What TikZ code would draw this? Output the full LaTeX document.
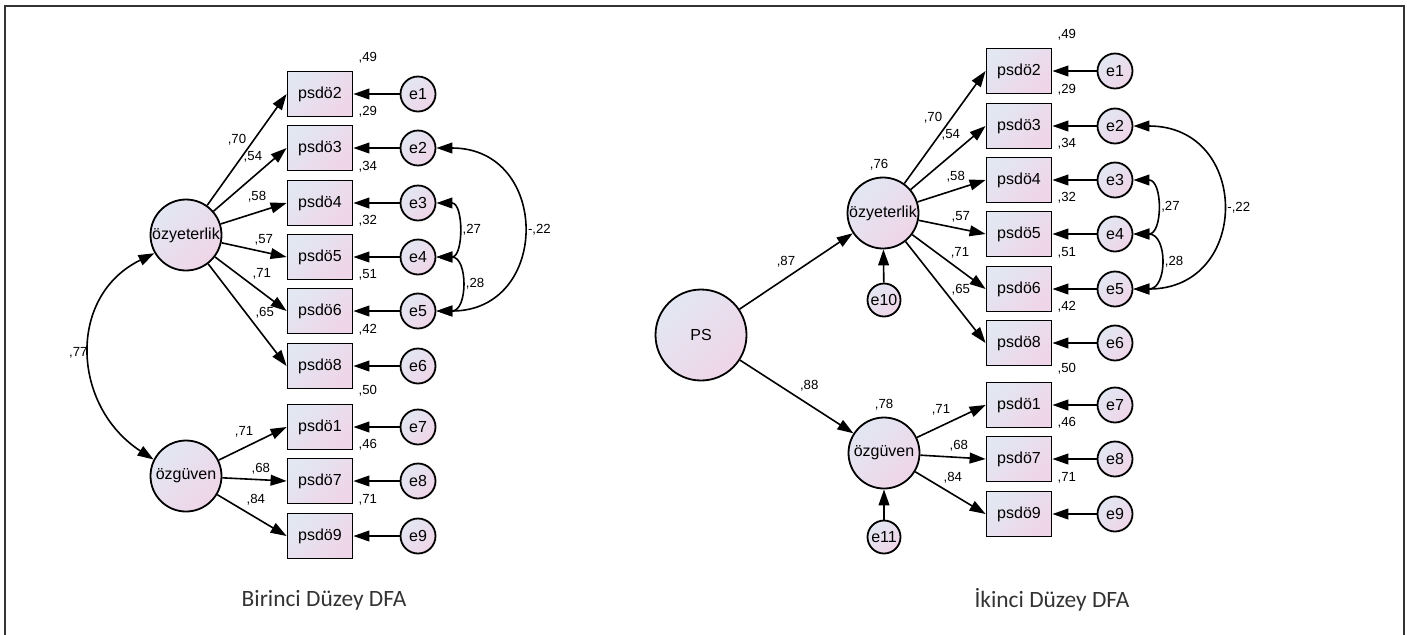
\documentclass[tikz,border=0pt]{standalone}
\usepackage{fontspec}
\setmainfont{Liberation Sans}
\newfontfamily\capfont{Carlito}
\usetikzlibrary{arrows.meta,positioning}
\definecolor{fillA}{RGB}{226,231,242}
\definecolor{fillB}{RGB}{239,213,232}
\tikzstyle{latent}=[circle,draw,line width=0.9pt,top color=fillA,bottom color=fillB,shading angle=45,minimum size=35.5pt,inner sep=0pt,font=\fontsize{8}{9}\selectfont]
\tikzstyle{item}=[rectangle,draw,line width=0.9pt,top color=fillA,bottom color=fillB,shading angle=45,minimum width=32.5pt,minimum height=22.5pt,inner sep=0pt,font=\fontsize{8}{9}\selectfont]
\tikzstyle{err}=[circle,draw,line width=0.9pt,top color=fillA,bottom color=fillB,shading angle=45,minimum size=17.5pt,inner sep=0pt,font=\fontsize{8}{9}\selectfont]
\tikzstyle{val}=[inner sep=1pt,font=\fontsize{6.6}{7}\selectfont]
\tikzstyle{cov}=[val,anchor=west,xshift=1.5pt]
\tikzstyle{caption}=[font=\capfont\fontsize{11.7}{14}\selectfont,text=black!80]

\begin{document}
\begin{tikzpicture}[x=0.5pt,y=-0.5pt,line width=0.8pt,>={Triangle[length=8pt,width=5.4pt]}]
\useasboundingbox (0,0) rectangle (1407,634);
\draw[line width=1pt,black!80] (5,650) -- (5,6) -- (1404,6) -- (1404,650);

% Birinci Duzey
\node[latent] at (186, 235) (oy) {özyeterlik};
\node[latent] at (186, 476) (og) {özgüven};
\node[item] at (320, 94) (a2) {psdö2};
\node[item] at (320, 148) (a3) {psdö3};
\node[item] at (320, 203) (a4) {psdö4};
\node[item] at (320, 257) (a5) {psdö5};
\node[item] at (320, 311) (a6) {psdö6};
\node[item] at (320, 366) (a8) {psdö8};
\node[item] at (320, 427) (a1) {psdö1};
\node[item] at (320, 481) (a7) {psdö7};
\node[item] at (320, 536) (a9) {psdö9};
\node[err] at (418, 94) (ea1) {e1};
\node[err] at (418, 148) (ea2) {e2};
\node[err] at (418, 203) (ea3) {e3};
\node[err] at (418, 257) (ea4) {e4};
\node[err] at (418, 311) (ea5) {e5};
\node[err] at (418, 366) (ea6) {e6};
\node[err] at (418, 427) (ea7) {e7};
\node[err] at (418, 481) (ea8) {e8};
\node[err] at (418, 536) (ea9) {e9};
\node[val, above right=2.2pt and 1.2pt of a2.north east] (ra2) {,49};
\node[val, above right=2.2pt and 1.2pt of a3.north east] (ra3) {,29};
\node[val, above right=2.2pt and 1.2pt of a4.north east] (ra4) {,34};
\node[val, above right=2.2pt and 1.2pt of a5.north east] (ra5) {,32};
\node[val, above right=2.2pt and 1.2pt of a6.north east] (ra6) {,51};
\node[val, above right=2.2pt and 1.2pt of a8.north east] (ra8) {,42};
\node[val, above right=2.2pt and 1.2pt of a1.north east] (ra1) {,50};
\node[val, above right=2.2pt and 1.2pt of a7.north east] (ra7) {,46};
\node[val, above right=2.2pt and 1.2pt of a9.north east] (ra9) {,71};
\draw[->] (oy) edge node[val, pos=.375, above=8pt] {,70} (a2.west);
\draw[->] (oy) edge node[val, pos=.539, above=6.2pt] {,54} (a3.west);
\draw[->] (oy) edge node[val, pos=.55, above=3.8pt] {,58} (a4.west);
\draw[->] (oy) edge node[val, pos=.65, above=2.1pt] {,57} (a5.west);
\draw[->] (oy) edge node[val, pos=.653, above=5.2pt] {,71} (a6.west);
\draw[->] (oy) edge node[val, pos=.721, above=8.3pt] {,65} (a8.west);
\draw[->] (og) edge node[val, pos=.374, above=4pt] {,71} (a1.west);
\draw[->] (og) edge node[val, pos=.6, above=1.6pt] {,68} (a7.west);
\draw[->] (og) edge node[val, pos=.557, above=4.9pt] {,84} (a9.west);
\draw[->] (ea1) edge (a2);
\draw[->] (ea2) edge (a3);
\draw[->] (ea3) edge (a4);
\draw[->] (ea4) edge (a5);
\draw[->] (ea5) edge (a6);
\draw[->] (ea6) edge (a8);
\draw[->] (ea7) edge (a1);
\draw[->] (ea8) edge (a7);
\draw[->] (ea9) edge (a9);
\draw[<->] (oy.210) to[out=206, in=147, looseness=1.21] node[val, anchor=east] {,77} (og.153);
\draw[<->] (ea3.east) to[out=0, in=0, looseness=1.3] node[cov] {,27} (ea4.east);
\draw[<->] (ea4.east) to[out=0, in=0, looseness=1.5] node[cov] {,28} (ea5.east);
\draw[<->] (ea2.east) to[out=0, in=0, looseness=1.8] node[cov] {-,22} (ea5.east);
\node[caption] at (324, 600) (cap1) {Birinci Düzey DFA};

% Ikinci Duzey
\node[latent, minimum size=45.5pt] at (701, 335) (ps) {PS};
\node[latent] at (883, 213) (oyb) {özyeterlik};
\node[latent] at (884, 453) (ogb) {özgüven};
\node[err, minimum size=16.5pt] at (884, 300) (eb10) {e10};
\node[err, minimum size=16.5pt] at (884, 537) (eb11) {e11};
\node[item] at (1019, 71) (b2) {psdö2};
\node[item] at (1019, 126) (b3) {psdö3};
\node[item] at (1019, 180) (b4) {psdö4};
\node[item] at (1019, 234) (b5) {psdö5};
\node[item] at (1019, 289) (b6) {psdö6};
\node[item] at (1019, 343) (b8) {psdö8};
\node[item] at (1019, 405) (b1) {psdö1};
\node[item] at (1019, 459) (b7) {psdö7};
\node[item] at (1019, 514) (b9) {psdö9};
\node[err] at (1115, 71) (eb1) {e1};
\node[err] at (1115, 126) (eb2) {e2};
\node[err] at (1115, 180) (eb3) {e3};
\node[err] at (1115, 234) (eb4) {e4};
\node[err] at (1115, 289) (eb5) {e5};
\node[err] at (1115, 343) (eb6) {e6};
\node[err] at (1115, 405) (eb7) {e7};
\node[err] at (1115, 459) (eb8) {e8};
\node[err] at (1115, 514) (eb9) {e9};
\node[val, above right=2.2pt and 1.2pt of b2.north east] (rb2) {,49};
\node[val, above right=2.2pt and 1.2pt of b3.north east] (rb3) {,29};
\node[val, above right=2.2pt and 1.2pt of b4.north east] (rb4) {,34};
\node[val, above right=2.2pt and 1.2pt of b5.north east] (rb5) {,32};
\node[val, above right=2.2pt and 1.2pt of b6.north east] (rb6) {,51};
\node[val, above right=2.2pt and 1.2pt of b8.north east] (rb8) {,42};
\node[val, above right=2.2pt and 1.2pt of b1.north east] (rb1) {,50};
\node[val, above right=2.2pt and 1.2pt of b7.north east] (rb7) {,46};
\node[val, above right=2.2pt and 1.2pt of b9.north east] (rb9) {,71};
\node[val, above=1.6pt of oyb.north, xshift=-2pt] (roy) {,76};
\node[val, above=1.6pt of ogb.north] (rog) {,78};
\draw[->] (ps) edge node[val, pos=.41, above=4.1pt] {,87} (oyb);
\draw[->] (ps) edge node[val, pos=.61, above=5.4pt] {,88} (ogb);
\draw[->] (eb10) edge (oyb);
\draw[->] (eb11) edge (ogb);
\draw[->] (oyb) edge node[val, pos=.352, above=9.1pt] {,70} (b2.west);
\draw[->] (oyb) edge node[val, pos=.536, above=6.4pt] {,54} (b3.west);
\draw[->] (oyb) edge node[val, pos=.56, above=2.4pt] {,58} (b4.west);
\draw[->] (oyb) edge node[val, pos=.63, above=2pt] {,57} (b5.west);
\draw[->] (oyb) edge node[val, pos=.65, above=4.5pt] {,71} (b6.west);
\draw[->] (oyb) edge node[val, pos=.69, above=6.8pt] {,65} (b8.west);
\draw[->] (ogb) edge node[val, pos=.35, above=4.2pt] {,71} (b1.west);
\draw[->] (ogb) edge node[val, pos=.59, above=1.8pt] {,68} (b7.west);
\draw[->] (ogb) edge node[val, pos=.535, above=4.2pt] {,84} (b9.west);
\draw[->] (eb1) edge (b2);
\draw[->] (eb2) edge (b3);
\draw[->] (eb3) edge (b4);
\draw[->] (eb4) edge (b5);
\draw[->] (eb5) edge (b6);
\draw[->] (eb6) edge (b8);
\draw[->] (eb7) edge (b1);
\draw[->] (eb8) edge (b7);
\draw[->] (eb9) edge (b9);
\draw[<->] (eb3.east) to[out=0, in=0, looseness=1.4] node[cov] {,27} (eb4.east);
\draw[<->] (eb4.east) to[out=0, in=0, looseness=1.6] node[cov] {,28} (eb5.east);
\draw[<->] (eb2.east) to[out=0, in=0, looseness=1.85] node[cov] {-,22} (eb5.east);
\node[caption] at (1052, 600) (cap2) {İkinci Düzey DFA};
\end{tikzpicture}
\end{document}
